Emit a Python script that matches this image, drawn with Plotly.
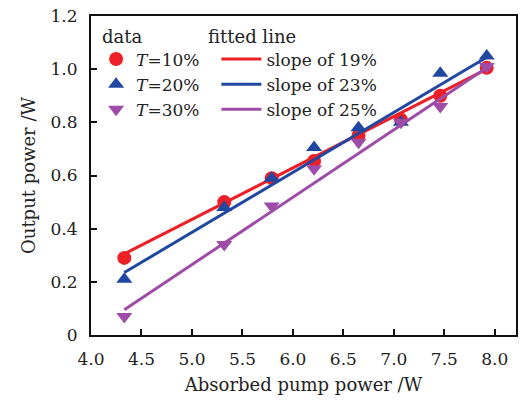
import plotly.graph_objects as go

# Measured data
absorbed_pump = [4.33, 5.32, 5.79, 6.21, 6.65, 7.07, 7.46, 7.92]
out_T10 = [0.29, 0.50, 0.59, 0.655, 0.75, 0.81, 0.90, 1.005]
out_T20 = [0.21, 0.48, 0.59, 0.705, 0.78, 0.80, 0.985, 1.05]
out_T30 = [0.07, 0.34, 0.485, 0.625, 0.725, 0.80, 0.86, 1.01]

# Fitted line end points
fit_x = [4.33, 7.92]
fit_T10 = [0.305, 1.0]
fit_T20 = [0.235, 1.045]
fit_T30 = [0.095, 1.005]

data_labels = ["<i>T</i>=10%", "<i>T</i>=20%", "<i>T</i>=30%"]
fit_labels = ["slope of 19%", "slope of 23%", "slope of 25%"]

x_ticks = [4.0, 4.5, 5.0, 5.5, 6.0, 6.5, 7.0, 7.5, 8.0]
x_ticktext = ["4.0", "4.5", "5.0", "5.5", "6.0", "6.5", "7.0", "7.5", "8.0"]
y_ticks = [0, 0.2, 0.4, 0.6, 0.8, 1.0, 1.2]
y_ticktext = ["0", "0.2", "0.4", "0.6", "0.8", "1.0", "1.2"]

RED = "rgb(236,32,38)"
BLUE = "rgb(32,72,160)"
PURPLE = "rgb(158,76,168)"
FONT = "DejaVu Serif"

fig = go.Figure()

for ys, fy, col, sym, dl, fl in [
    (out_T10, fit_T10, RED, "circle", data_labels[0], fit_labels[0]),
    (out_T20, fit_T20, BLUE, "triangle-up", data_labels[1], fit_labels[1]),
    (out_T30, fit_T30, PURPLE, "triangle-down", data_labels[2], fit_labels[2]),
]:
    fig.add_trace(go.Scatter(
        x=fit_x, y=fy, mode="lines", name=fl,
        line=dict(color=col, width=3), legend="legend2",
    ))
    fig.add_trace(go.Scatter(
        x=absorbed_pump, y=ys, mode="markers", name=dl,
        marker=dict(color=col, symbol=sym, size=14, line=dict(width=0)),
        legend="legend",
    ))

fig.update_layout(
    width=520, height=403,
    margin=dict(l=91, r=2, t=16, b=68),
    paper_bgcolor="white", plot_bgcolor="white",
    font=dict(family=FONT, size=16, color="#222"),
    showlegend=True,
    legend=dict(
        x=0.012, y=0.92, xanchor="left", yanchor="top",
        bgcolor="rgba(0,0,0,0)", font=dict(size=17, family=FONT),
        tracegroupgap=0, itemwidth=30,
    ),
    legend2=dict(
        x=0.295, y=0.92, xanchor="left", yanchor="top",
        bgcolor="rgba(0,0,0,0)", font=dict(size=17, family=FONT),
        tracegroupgap=0, itemwidth=40,
    ),
    annotations=[
        dict(text="data", xref="paper", yref="paper", x=0.02, y=0.935,
             xanchor="left", yanchor="middle", showarrow=False,
             font=dict(size=18, family=FONT, color="#222")),
        dict(text="fitted line", xref="paper", yref="paper", x=0.271, y=0.935,
             xanchor="left", yanchor="middle", showarrow=False,
             font=dict(size=18, family=FONT, color="#222")),
    ],
    xaxis=dict(
        range=[4.0, 8.21], tickvals=x_ticks, ticktext=x_ticktext,
        ticks="inside", ticklen=6, tickwidth=1.5, tickcolor="#111",
        showline=True, linecolor="#111", linewidth=2, mirror=True,
        showgrid=False, zeroline=False, ticklabelstandoff=8,
        title=dict(text="Absorbed pump power /W", font=dict(size=18), standoff=10),
        tickfont=dict(size=17),
    ),
    yaxis=dict(
        range=[0, 1.2], tickvals=y_ticks, ticktext=y_ticktext,
        ticks="inside", ticklen=6, tickwidth=1.5, tickcolor="#111",
        showline=True, linecolor="#111", linewidth=2, mirror=True,
        showgrid=False, zeroline=False, ticklabelstandoff=8,
        title=dict(text="Output power /W", font=dict(size=18), standoff=10),
        tickfont=dict(size=17),
    ),
)

fig.write_html("out.html")
